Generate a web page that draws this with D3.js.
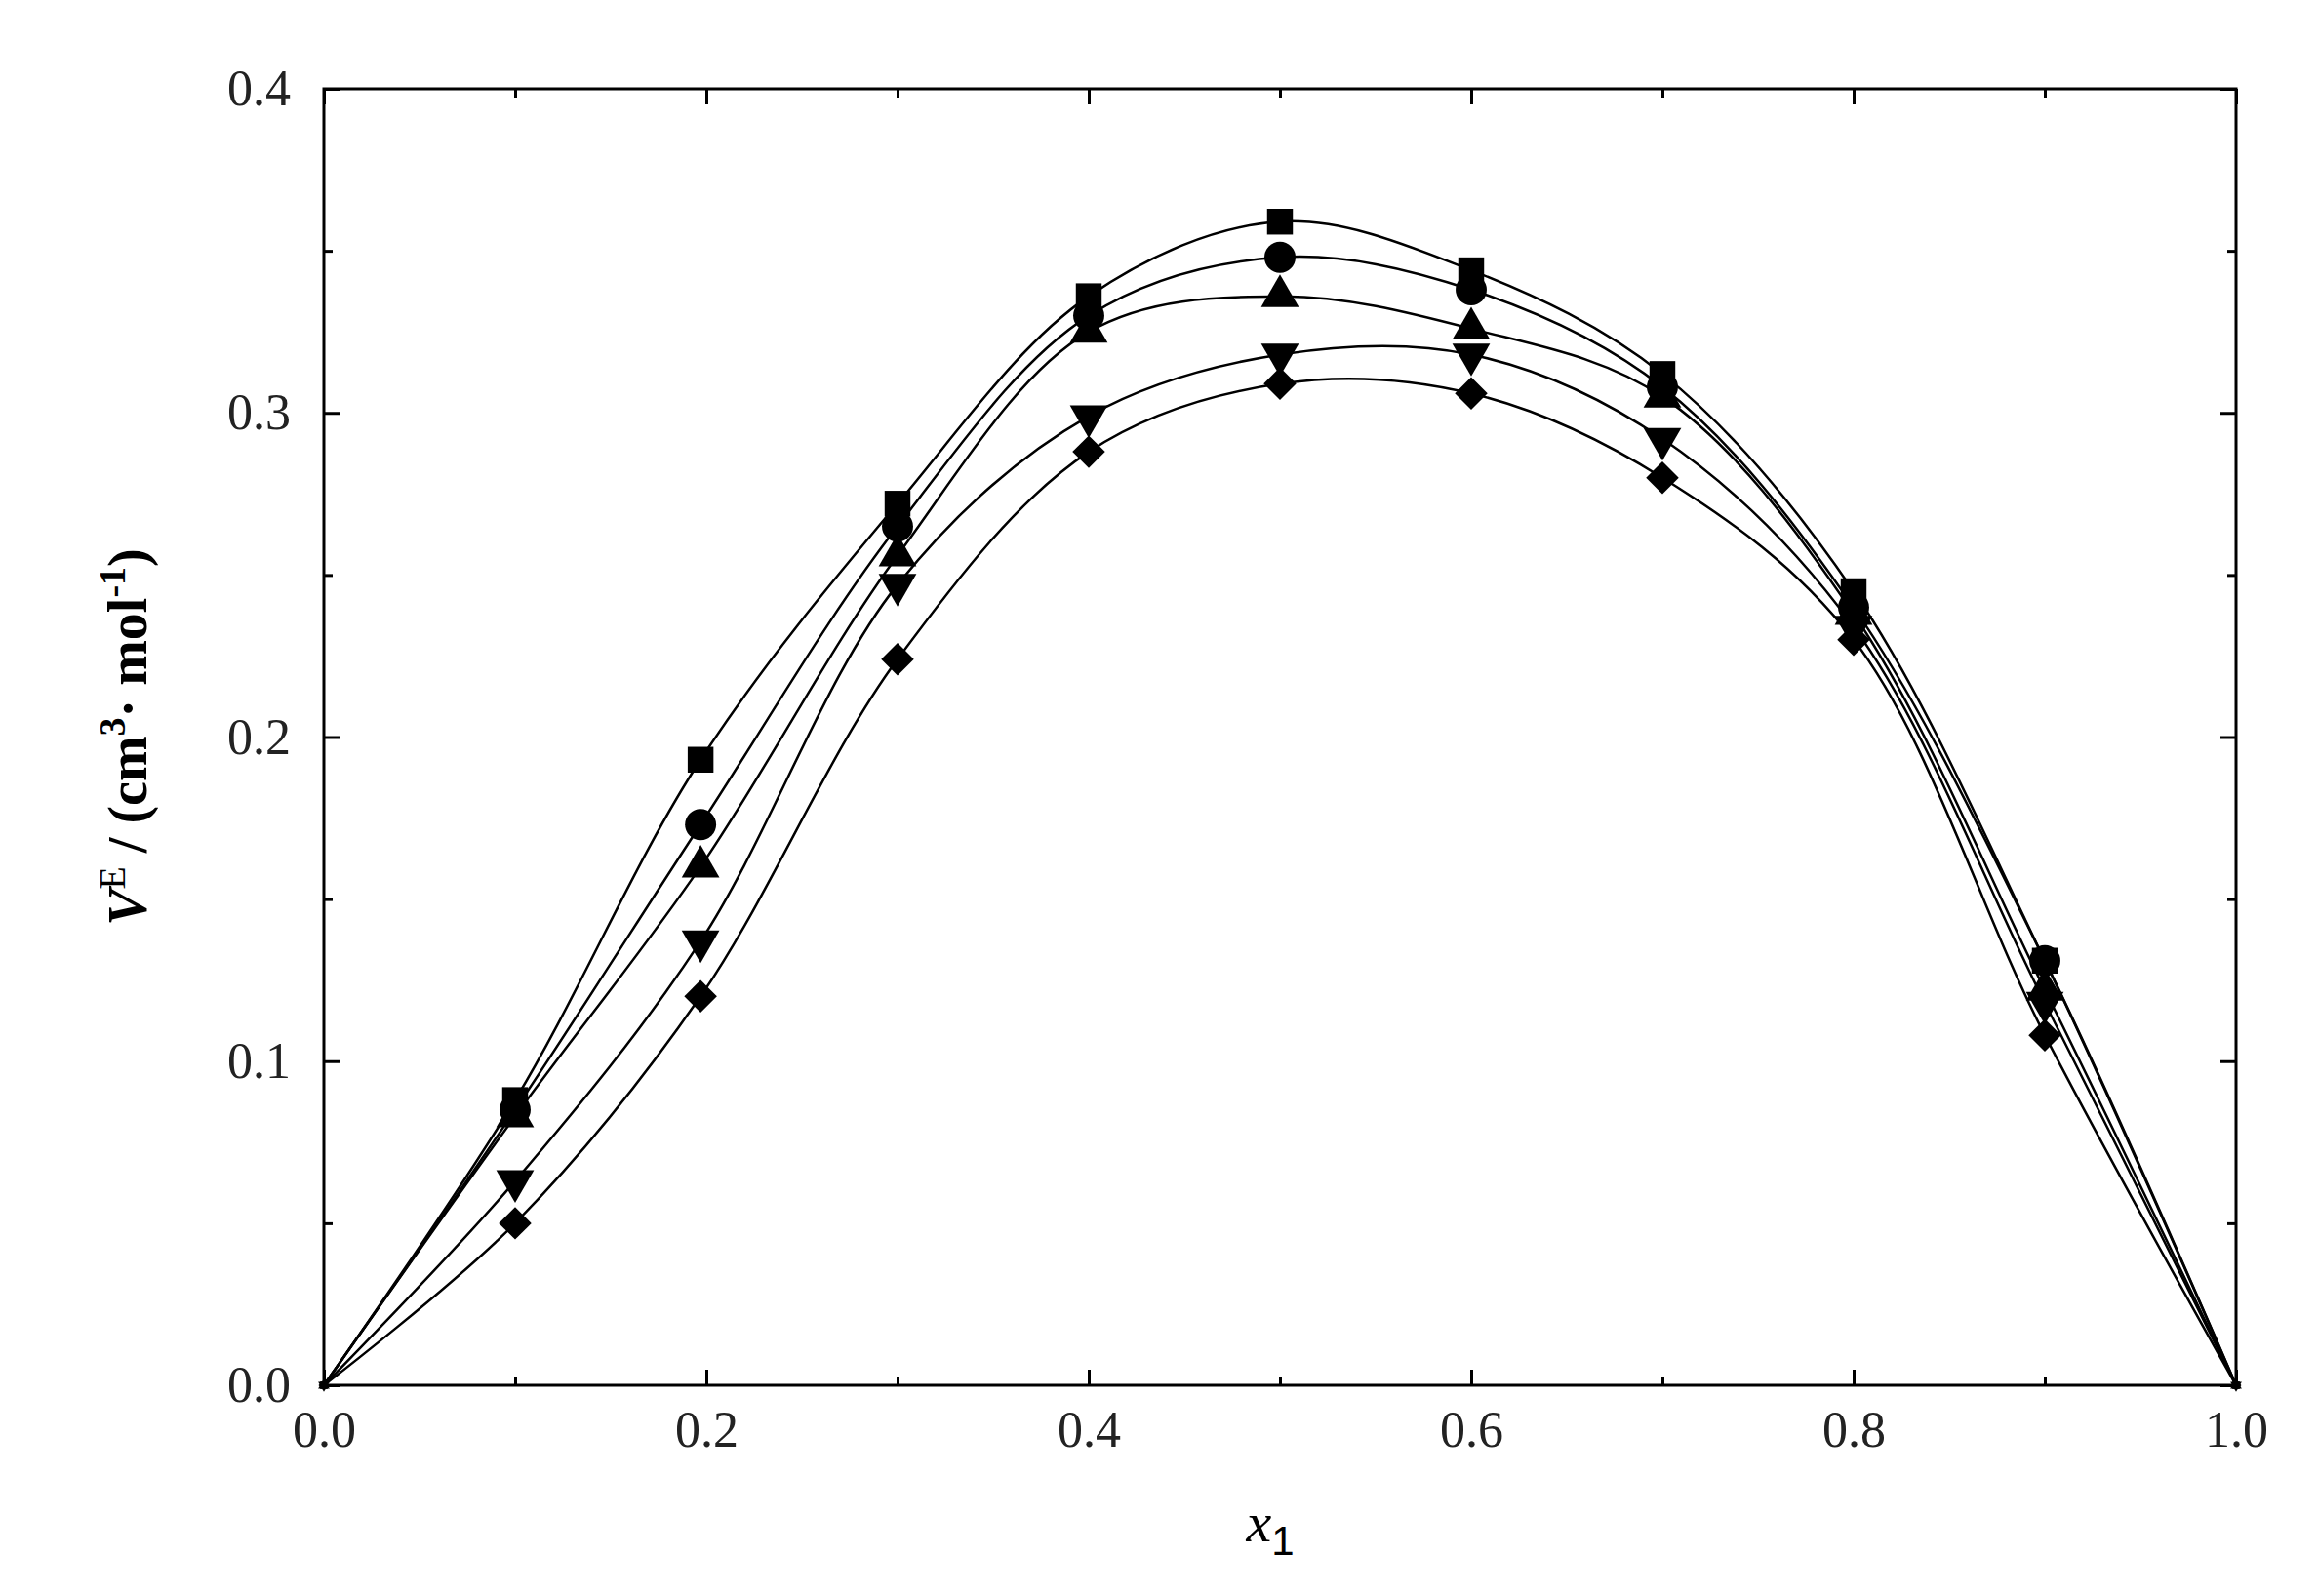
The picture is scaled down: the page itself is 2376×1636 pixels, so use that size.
<!DOCTYPE html>
<html>
<head>
<meta charset="utf-8" />
<script src="https://cdn.jsdelivr.net/npm/d3@7"></script>
<style>
body { margin: 0; background: white; }
text { font-family: "Liberation Serif", "DejaVu Serif", serif; }
</style>
</head>
<body>
<script>
var xs = [0, 0.1, 0.197, 0.3, 0.4, 0.5, 0.6, 0.7, 0.8, 0.9, 1.0];
var squares   = [0, 0.088, 0.193, 0.272, 0.336, 0.359, 0.344, 0.312, 0.245, 0.131, 0];
var circles   = [0, 0.085, 0.173, 0.265, 0.330, 0.348, 0.338, 0.308, 0.240, 0.131, 0];
var triUp     = [0, 0.083, 0.160, 0.256, 0.325, 0.336, 0.326, 0.305, 0.238, 0.122, 0];
var triDown   = [0, 0.063, 0.137, 0.247, 0.299, 0.318, 0.318, 0.292, 0.234, 0.118, 0];
var diamonds  = [0, 0.050, 0.120, 0.224, 0.288, 0.309, 0.306, 0.280, 0.230, 0.108, 0];
var xTicks = [0, 0.2, 0.4, 0.6, 0.8, 1.0];
var yTicks = [0, 0.1, 0.2, 0.3, 0.4];

var series = [
  {vals: squares, sym: d3.symbolSquare, size: 700, rot: 0},
  {vals: circles, sym: d3.symbolCircle, size: 800, rot: 0},
  {vals: triUp, sym: d3.symbolTriangle, size: 650, rot: 0},
  {vals: triDown, sym: d3.symbolTriangle, size: 650, rot: 180},
  {vals: diamonds, sym: d3.symbolSquare, size: 560, rot: 45}
];

var W = 2376, H = 1636;
var m = {left: 332, right: 2292, top: 91, bottom: 1420};
var svg = d3.select("body").append("svg").attr("width", W).attr("height", H);
var x = d3.scaleLinear().domain([0, 1]).range([m.left, m.right]);
var y = d3.scaleLinear().domain([0, 0.4]).range([m.bottom, m.top]);

svg.append("rect").attr("x", m.left).attr("y", m.top)
  .attr("width", m.right - m.left).attr("height", m.bottom - m.top)
  .attr("fill", "none").attr("stroke", "black").attr("stroke-width", 3);

function ticks(axis, t, minorT, pos, fmt, pad) {
  var g = svg.append("g").attr("transform", pos);
  g.call(axis.tickValues(t).tickSize(-16).tickPadding(pad).tickFormat(fmt));
  g.select(".domain").remove();
  g.selectAll("line").attr("stroke-width", 3);
  g.selectAll("text").attr("font-size", 52).attr("fill", "#222");
  var g2 = svg.append("g").attr("transform", pos);
  g2.call(axis.tickValues(minorT).tickSize(-9).tickFormat(""));
  g2.select(".domain").remove();
  g2.selectAll("line").attr("stroke-width", 3);
}
var f1 = d3.format(".1f");
ticks(d3.axisBottom(x), xTicks, [0.1,0.3,0.5,0.7,0.9], "translate(0," + m.bottom + ")", f1, 26);
ticks(d3.axisTop(x), xTicks, [0.1,0.3,0.5,0.7,0.9], "translate(0," + m.top + ")", "", 20);
ticks(d3.axisLeft(y), yTicks, [0.05,0.15,0.25,0.35], "translate(" + m.left + ",0)", f1, 34);
ticks(d3.axisRight(y), yTicks, [0.05,0.15,0.25,0.35], "translate(" + m.right + ",0)", "", 20);

var line = d3.line().x(function(d, i){ return x(xs[i]); }).y(function(d){ return y(d); })
  .curve(d3.curveCatmullRom.alpha(0.5));

series.forEach(function(s) {
  svg.append("path").attr("d", line(s.vals)).attr("fill", "none")
    .attr("stroke", "black").attr("stroke-width", 2.5);
  svg.append("g").selectAll("path").data(s.vals).enter().append("path")
    .attr("d", function(d, i) {
      var ends = (i === 0 || i === s.vals.length - 1);
      return d3.symbol().type(s.sym).size(ends ? 60 : s.size)();
    })
    .attr("transform", function(d, i) {
      return "translate(" + x(xs[i]) + "," + y(d) + ") rotate(" + s.rot + ")";
    })
    .attr("fill", "black");
});

svg.append("text").attr("x", (m.left + m.right) / 2 - 10).attr("y", 1580)
  .attr("font-size", 58).attr("text-anchor", "middle")
  .html('<tspan font-style="italic">x</tspan><tspan font-size="42" dy="14" font-family="Liberation Sans">1</tspan>');

svg.append("text").attr("transform", "translate(150," + ((m.top + m.bottom) / 2) + ") rotate(-90)")
  .attr("font-size", 56).attr("text-anchor", "middle").attr("font-weight", "bold")
  .html('<tspan font-style="italic">V</tspan><tspan font-size="38" dy="-22" font-weight="normal">E</tspan><tspan dy="22"> / (cm</tspan><tspan font-size="38" dy="-22">3</tspan><tspan dy="22">· mol</tspan><tspan font-size="38" dy="-22">-1</tspan><tspan dy="22">)</tspan>');
</script>
</body>
</html>
